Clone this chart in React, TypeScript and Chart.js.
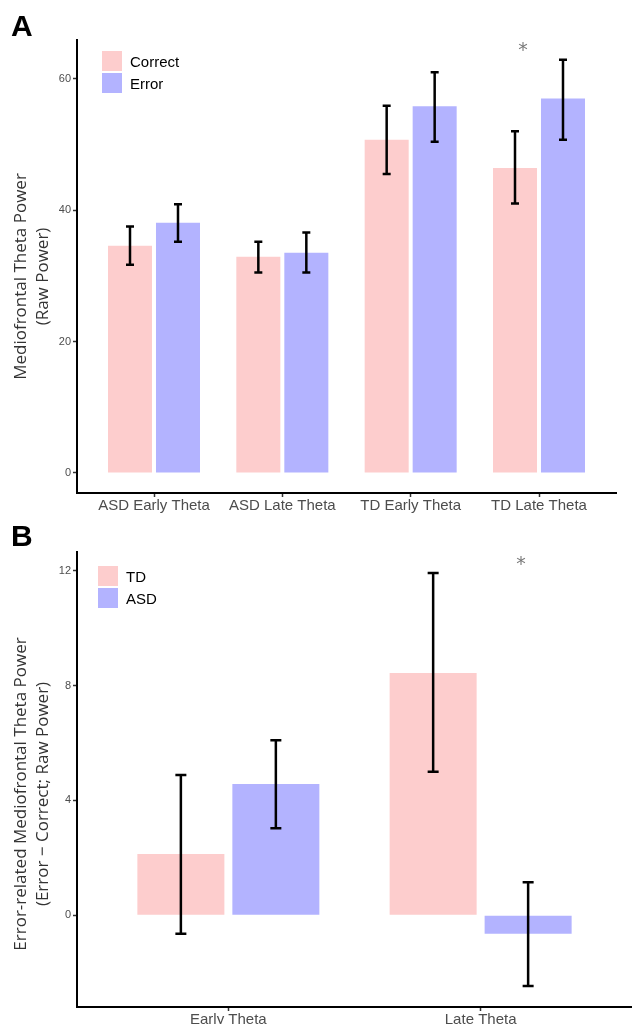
import React, { useEffect, useRef } from 'react';
import { Chart, registerables } from 'chart.js';

Chart.register(...registerables);

// ---------- Panel A data ----------
const categoriesA = ['ASD Early Theta', 'ASD Late Theta', 'TD Early Theta', 'TD Late Theta'];
const correctMeans = [34.6, 32.9, 50.7, 46.4];
const correctLow = [31.7, 30.5, 45.5, 41.0];
const correctHigh = [37.5, 35.2, 55.9, 52.0];
const errorMeans = [38.1, 33.5, 55.8, 57.0];
const errorLow = [35.2, 30.5, 50.4, 50.7];
const errorHigh = [40.9, 36.6, 61.0, 62.9];
const ticksA = [0, 20, 40, 60];
const sigA = [{ x: 2.875, y: 64.9, text: '*' }];

// ---------- Panel B data ----------
const categoriesB = ['Early Theta', 'Late Theta'];
const tdDiff = [2.13, 8.44];
const tdLow = [-0.65, 5.0];
const tdHigh = [4.89, 11.93];
const asdDiff = [4.57, -0.65];
const asdLow = [3.03, -2.47];
const asdHigh = [6.1, 1.15];
const ticksB = [0, 4, 8, 12];
const sigB = [{ x: 1.16, y: 12.35, text: '*' }];

const PINK = '#FDCDCD';
const BLUE = '#B3B3FF';
const SANS = '"Liberation Sans", Arial, sans-serif';
const TITLE_FONT = '"Open Sans", "Noto Sans", sans-serif';

const errorBarPlugin = {
  id: 'errorBars',
  afterDatasetsDraw(chart: any, _args: any, opts: any) {
    const { ctx } = chart;
    const yScale = chart.scales.y;
    ctx.save();
    ctx.strokeStyle = '#000';
    ctx.lineWidth = opts.lineWidth;
    chart.data.datasets.forEach((ds: any, i: number) => {
      const meta = chart.getDatasetMeta(i);
      meta.data.forEach((el: any, j: number) => {
        const x = el.x;
        const yl = yScale.getPixelForValue(ds.errLow[j]);
        const yh = yScale.getPixelForValue(ds.errHigh[j]);
        const hw = opts.capWidth / 2;
        ctx.beginPath();
        ctx.moveTo(x, yl);
        ctx.lineTo(x, yh);
        ctx.moveTo(x - hw, yl);
        ctx.lineTo(x + hw, yl);
        ctx.moveTo(x - hw, yh);
        ctx.lineTo(x + hw, yh);
        ctx.stroke();
      });
    });
    ctx.restore();
  },
};

const boxLegendPlugin = {
  id: 'boxLegend',
  afterDraw(chart: any, _args: any, opts: any) {
    const { ctx } = chart;
    ctx.save();
    chart.data.datasets.forEach((ds: any, i: number) => {
      const y = opts.y + i * (opts.box + opts.gap);
      ctx.fillStyle = ds.backgroundColor;
      ctx.fillRect(opts.x, y, opts.box, opts.box);
      ctx.fillStyle = '#000';
      ctx.font = opts.font;
      ctx.textAlign = 'left';
      ctx.textBaseline = 'alphabetic';
      ctx.fillText(ds.label, opts.x + opts.box + opts.textGap, y + opts.box / 2 + opts.baselineShift);
    });
    ctx.restore();
  },
};

const yTitlePlugin = {
  id: 'yTitle',
  afterDraw(chart: any, _args: any, opts: any) {
    const { ctx } = chart;
    ctx.save();
    ctx.translate(opts.x, opts.cy);
    ctx.rotate(-Math.PI / 2);
    ctx.fillStyle = opts.color;
    ctx.font = opts.font;
    ctx.textAlign = 'center';
    ctx.textBaseline = 'middle';
    opts.lines.forEach((line: string, k: number) => {
      ctx.fillText(line, 0, k * opts.lineHeight);
    });
    ctx.restore();
  },
};

const sigPlugin = {
  id: 'sigMarks',
  afterDatasetsDraw(chart: any, _args: any, opts: any) {
    const { ctx } = chart;
    ctx.save();
    ctx.fillStyle = opts.color;
    ctx.font = opts.font;
    ctx.textAlign = 'center';
    ctx.textBaseline = 'middle';
    opts.marks.forEach((m: any) => {
      const x = chart.scales.x.getPixelForValue(m.x);
      const y = chart.scales.y.getPixelForValue(m.y);
      ctx.fillText(m.text, x, y + opts.dy);
    });
    ctx.restore();
  },
};

function axisCommon() {
  return {
    grid: {
      display: true,
      drawOnChartArea: false,
      drawTicks: true,
      tickLength: 4,
      tickColor: '#333333',
      tickWidth: 1.5,
      offset: false,
    },
    border: { display: true, color: '#000000', width: 2 },
  };
}

function makeConfig(p: any) {
  return {
    type: 'bar',
    data: {
      datasets: p.series.map((s: any) => ({
        label: s.label,
        data: s.values.map((v: number, i: number) => ({ x: i, y: v })),
        errLow: s.low,
        errHigh: s.high,
        backgroundColor: s.color,
        borderWidth: 0,
        categoryPercentage: p.catPct,
        barPercentage: p.barPct,
      })),
    },
    options: {
      animation: false,
      responsive: false,
      maintainAspectRatio: false,
      layout: { padding: p.padding },
      plugins: {
        legend: { display: false },
        tooltip: { enabled: false },
        errorBars: { capWidth: p.capWidth, lineWidth: 2.5 },
        boxLegend: p.legend,
        yTitle: p.yTitle,
        sigMarks: { marks: p.sig, color: '#7A7A7A', font: '19px "DejaVu Sans", sans-serif', dy: 4 },
      },
      scales: {
        x: {
          type: 'linear',
          offset: false,
          min: -0.6,
          max: p.categories.length - 1 + 0.6,
          afterBuildTicks: (s: any) => {
            s.ticks = p.categories.map((_: string, i: number) => ({ value: i }));
          },
          afterFit: (s: any) => {
            s.height = p.xAxisHeight;
          },
          ticks: {
            autoSkip: false,
            maxRotation: 0,
            padding: 0,
            color: '#4D4D4D',
            font: { family: SANS, size: 15 },
            callback: (v: number) => p.categories[v],
          },
          ...axisCommon(),
        },
        y: {
          type: 'linear',
          min: p.yMin,
          max: p.yMax,
          afterBuildTicks: (s: any) => {
            s.ticks = p.yTicks.map((v: number) => ({ value: v }));
          },
          afterFit: (s: any) => {
            s.width = 77;
          },
          ticks: {
            padding: 2,
            color: '#4D4D4D',
            font: { family: SANS, size: 11 },
          },
          ...axisCommon(),
        },
      },
    },
    plugins: [errorBarPlugin, boxLegendPlugin, yTitlePlugin, sigPlugin],
  };
}

export default function App() {
  const refA = useRef<HTMLCanvasElement | null>(null);
  const refB = useRef<HTMLCanvasElement | null>(null);

  useEffect(() => {
    const chartA = new Chart(
      refA.current as HTMLCanvasElement,
      makeConfig({
        categories: categoriesA,
        series: [
          { label: 'Correct', values: correctMeans, low: correctLow, high: correctHigh, color: PINK },
          { label: 'Error', values: errorMeans, low: errorLow, high: errorHigh, color: BLUE },
        ],
        catPct: 0.748,
        barPct: 0.917,
        capWidth: 8,
        padding: { left: 0, right: 16, top: 40, bottom: 0 },
        xAxisHeight: 27,
        yMin: -3.05,
        yMax: 65.9,
        yTicks: ticksA,
        sig: sigA,
        legend: { x: 102, y: 51, box: 20, gap: 2, textGap: 8, baselineShift: 6, font: `15px ${SANS}` },
        yTitle: {
          x: 21.5,
          cy: 276.5,
          lineHeight: 21.5,
          color: '#333333',
          font: `17px ${TITLE_FONT}`,
          lines: ['Mediofrontal Theta Power', '(Raw Power)'],
        },
      }) as any
    );
    const chartB = new Chart(
      refB.current as HTMLCanvasElement,
      makeConfig({
        categories: categoriesB,
        series: [
          { label: 'TD', values: tdDiff, low: tdLow, high: tdHigh, color: PINK },
          { label: 'ASD', values: asdDiff, low: asdLow, high: asdHigh, color: BLUE },
        ],
        catPct: 0.753,
        barPct: 0.916,
        capWidth: 11,
        padding: { left: 0, right: 0, top: 32, bottom: 0 },
        xAxisHeight: 17,
        yMin: -3.2,
        yMax: 12.66,
        yTicks: ticksB,
        sig: sigB,
        legend: { x: 98, y: 46, box: 20, gap: 2, textGap: 8, baselineShift: 6, font: `15px ${SANS}` },
        yTitle: {
          x: 21.5,
          cy: 274,
          lineHeight: 21.5,
          color: '#333333',
          font: `17px ${TITLE_FONT}`,
          lines: ['Error-related Mediofrontal Theta Power', '(Error \u2212 Correct; Raw Power)'],
        },
      }) as any
    );
    return () => {
      chartA.destroy();
      chartB.destroy();
    };
  }, []);

  const letter: React.CSSProperties = {
    position: 'absolute',
    left: 11,
    fontFamily: SANS,
    fontWeight: 'bold',
    fontSize: 30,
    lineHeight: '30px',
    color: '#000',
  };

  return (
    <div style={{ position: 'absolute', left: 0, top: 0, width: 632, height: 1024, background: '#fff', overflow: 'hidden' }}>
      <canvas ref={refA} width={632} height={520} style={{ position: 'absolute', left: 0, top: 0, display: 'block' }} />
      <canvas ref={refB} width={632} height={504} style={{ position: 'absolute', left: 0, top: 520, display: 'block' }} />
      <div style={{ ...letter, top: 11 }}>A</div>
      <div style={{ ...letter, top: 521 }}>B</div>
    </div>
  );
}
